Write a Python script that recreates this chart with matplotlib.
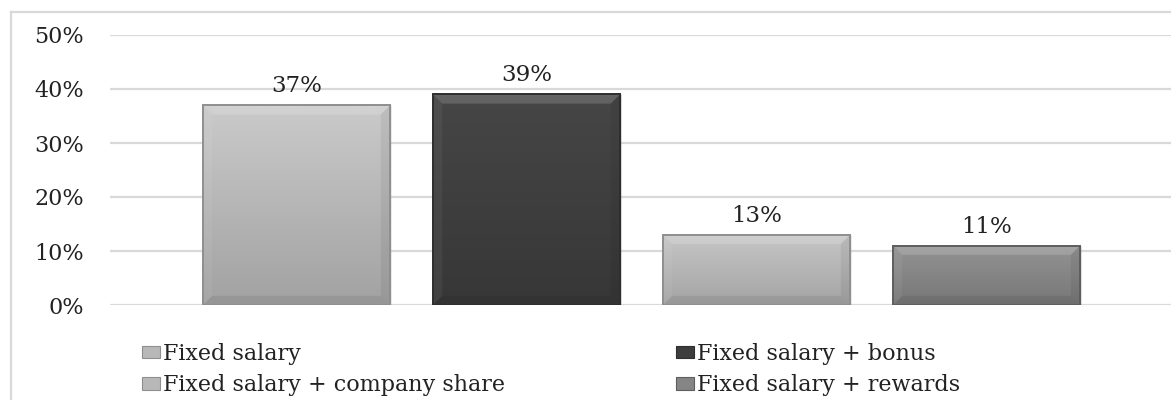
import matplotlib.pyplot as plt
import numpy as np
from matplotlib.colors import to_rgb
from matplotlib.patches import Polygon, Rectangle

plt.rcParams["font.family"] = ["DejaVu Serif"]

# pay structure shares, in percent
plans = ["Fixed salary", "Fixed salary + bonus",
         "Fixed salary + company share", "Fixed salary + rewards"]
shares = [37, 39, 13, 11]
value_labels = ["37%", "39%", "13%", "11%"]
y_ticks = [0, 10, 20, 30, 40, 50]
y_tick_labels = ["0%", "10%", "20%", "30%", "40%", "50%"]

top_colors = ["#cacaca", "#464646", "#c6c6c6", "#939393"]
bottom_colors = ["#a2a2a2", "#373737", "#a4a4a4", "#777777"]
edge_colors = ["#8f8f8f", "#2e2e2e", "#8f8f8f", "#5e5e5e"]
legend_colors = ["#b8b8b8", "#3d3d3d", "#b8b8b8", "#858585"]

W, H = 1171, 400
fig = plt.figure(figsize=(W / 100, H / 100), dpi=100)
ax = fig.add_axes([110 / W, 95 / H, (W - 110) / W, 270 / H])

x = np.arange(len(shares))
bars = ax.bar(x, shares, width=0.813, color=bottom_colors,
              edgecolor=edge_colors, linewidth=1.0, zorder=2)

# gradient fill plus soft bevel on each bar
dx, dy = 0.04, 1.7
for rect, c_top, c_bot in zip(bars, top_colors, bottom_colors):
    x0, w, h = rect.get_x(), rect.get_width(), rect.get_height()
    x1 = x0 + w
    t = np.linspace(0, 1, 64)[:, None]
    grad = (np.array(to_rgb(c_top)) * (1 - t) + np.array(to_rgb(c_bot)) * t)[:, None, :]
    im = ax.imshow(grad, extent=(x0, x1, 0, h), aspect="auto",
                   origin="upper", zorder=2.1, interpolation="bilinear")
    im.set_clip_path(rect)
    bevels = [
        ([(x0, h), (x1, h), (x1 - dx, h - dy), (x0 + dx, h - dy)], "white", 0.16),
        ([(x0, 0), (x0, h), (x0 + dx, h - dy), (x0 + dx, dy)], "white", 0.05),
        ([(x1, 0), (x1, h), (x1 - dx, h - dy), (x1 - dx, dy)], "black", 0.06),
        ([(x0, 0), (x1, 0), (x1 - dx, dy), (x0 + dx, dy)], "black", 0.07),
    ]
    for pts, col, a in bevels:
        ax.add_patch(Polygon(pts, closed=True, facecolor=col, alpha=a,
                             edgecolor="none", zorder=2.2))
    ax.add_patch(Rectangle((x0, 0), w, h, fill=False,
                           edgecolor=rect.get_edgecolor(), linewidth=1.4,
                           zorder=2.3))

for xi, v, lab in zip(x, shares, value_labels):
    ax.text(xi, v + 2.4, lab, ha="center", va="baseline",
            fontsize=16.5, color="#222222")

ax.set_xlim(-0.811, 3.802)
ax.set_ylim(0, 50)
ax.set_yticks(y_ticks)
ax.set_yticklabels(y_tick_labels)
ax.set_xticks([])
ax.tick_params(axis="y", length=0, pad=19, labelsize=16, labelcolor="#222222")
ax.grid(axis="y", color="#d9d9d9", linewidth=1.6)
ax.set_axisbelow(True)
for s in ax.spines.values():
    s.set_visible(False)

# outer chart border (top and left edges visible)
fig.add_artist(plt.Line2D([11 / W, 11 / W], [0, 1 - 12 / H],
                          color="#d9d9d9", linewidth=1.6))
fig.add_artist(plt.Line2D([11 / W, 1], [1 - 12 / H, 1 - 12 / H],
                          color="#d9d9d9", linewidth=1.6))

# legend in two columns, filled row by row
handles = [Rectangle((0, 0), 1, 1, facecolor=c, edgecolor=e, linewidth=0.8)
           for c, e in zip(legend_colors, edge_colors)]
for cols, x_left in (([0, 2], 142), ([1, 3], 676)):
    fig.legend([handles[i] for i in cols], [plans[i] for i in cols],
               loc="upper left", bbox_to_anchor=(x_left / W, 1 - 343 / H),
               frameon=False, borderpad=0, borderaxespad=0,
               fontsize=16, handlelength=0.8, handleheight=0.5,
               handletextpad=0.15, labelspacing=0.42,
               labelcolor="#222222")

fig.savefig("out.png")
